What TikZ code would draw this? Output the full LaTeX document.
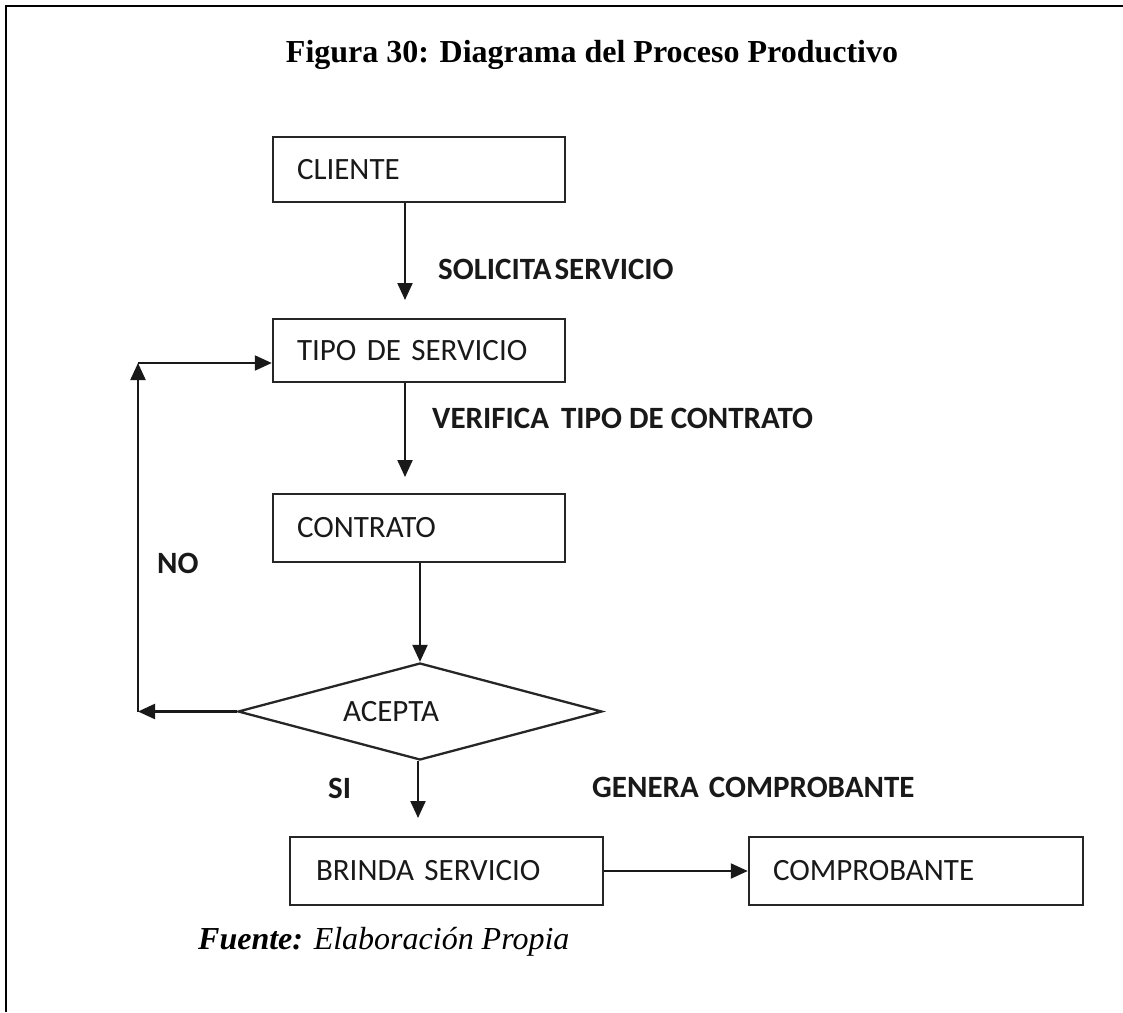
\documentclass[tikz,border=0pt]{standalone}
\usepackage{fontspec}
\setmainfont{Liberation Serif}
\newfontfamily\boxfont{Carlito}
\usetikzlibrary{arrows.meta,shapes.geometric}

\tikzset{
  stepbox/.style={draw=black!85, line width=2.5pt, rectangle, align=left,
    minimum height=#1, inner ysep=0pt, font=\boxfont\fontsize{31}{31}\selectfont,
    text=black!90},
  stepbox/.default=66pt,
  decision/.style={draw=black!85, line width=2.3pt, diamond, aspect=3.75, inner sep=0pt,
    minimum width=364pt, minimum height=97pt,
    font=\boxfont\fontsize{31}{31}\selectfont, text=black!90},
  flowlabel/.style={anchor=west, inner sep=0pt,
    font=\boxfont\bfseries\fontsize{31}{31}\selectfont, text=black!90},
  arr/.style={line width=2.2pt, draw=black!90,
    -{Triangle[length=17pt,width=15pt]}},
}

\begin{document}
\begin{tikzpicture}[x=1pt,y=-1pt]
  \useasboundingbox (0,0) rectangle (1123,1012);

  % frame of the figure
  \coordinate (fTL) at (6,6);
  \coordinate (fTR) at (1123,6);
  \coordinate (fBL) at (6,1012);
  \draw[line width=2.5pt] (fTR) -- (fTL) -- (fBL);

  % caption
  \node[font=\bfseries\fontsize{32}{32}\selectfont] (title) at (592,55)
    {Figura 30: Diagrama del Proceso Productivo};

  % process steps
  \node[stepbox=65pt, minimum width=292pt, text width=244pt, inner xsep=24pt]
    (cliente) at (419,169.5) {CLIENTE};
  \node[stepbox=63pt, minimum width=292pt, text width=244pt, inner xsep=24pt]
    (tipo) at (419,350.5) {TIPO DE SERVICIO};
  \node[stepbox=68pt, minimum width=292pt, text width=244pt, inner xsep=24pt]
    (contrato) at (419,528) {CONTRATO};
  \node[decision] (acepta) at (420,711.5) {ACEPTA\hspace*{58pt}};
  \node[stepbox=68pt, minimum width=313pt, text width=261pt, inner xsep=26pt]
    (brinda) at (446.5,871) {BRINDA SERVICIO};
  \node[stepbox=68pt, minimum width=334pt, text width=286pt, inner xsep=24pt]
    (comprobante) at (916,871) {COMPROBANTE};

  % arrow tips and corners
  \coordinate (t1) at (405,300);
  \coordinate (t2) at (405,477);
  \coordinate (noL) at (138,711.5);
  \coordinate (noT) at (138,363);
  \coordinate (t3) at (418,818);

  % connectors
  \draw[arr] (cliente.south -| t1) -- (t1);
  \draw[arr] (tipo.south -| t2) -- (t2);
  \draw[arr] (contrato.south -| acepta.north) -- (acepta.north);
  \draw[arr] (acepta.west) -- (noL);
  \draw[arr] (noL) -- (noT);
  \draw[arr] (noT) -- (noT -| tipo.west);
  \draw[arr] (acepta.south -| t3) -- (t3);
  \draw[arr] (brinda.east) -- (comprobante.west);

  % connector labels
  \node[flowlabel] (lsol) at (438,269) {SOLICITA\hspace{3pt}SERVICIO};
  \node[flowlabel] (lver) at (432,418) {VERIFICA\hspace{12pt}TIPO DE CONTRATO};
  \node[flowlabel] (lno) at (157,563) {NO};
  \node[flowlabel] (lsi) at (328,788) {SI};
  \node[flowlabel] (lgen) at (592,787) {GENERA\hspace{10pt}COMPROBANTE};

  % source line
  \node[anchor=west, inner sep=0pt, font=\fontsize{32}{32}\selectfont] (fuente) at (198,942)
    {\textbf{\textit{Fuente:}} \textit{Elaboración Propia}};
\end{tikzpicture}
\end{document}
